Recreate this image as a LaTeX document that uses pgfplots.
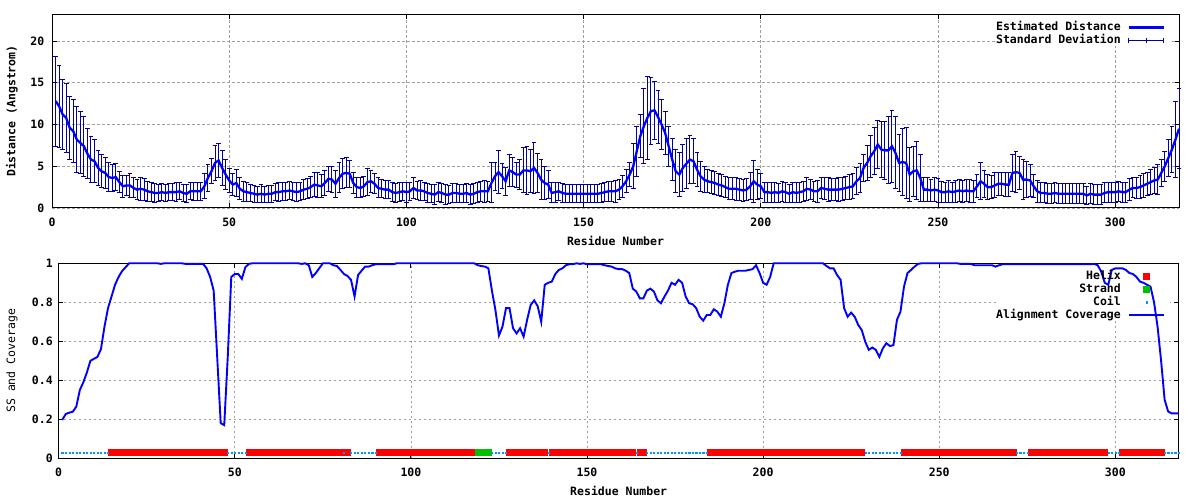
\documentclass[border=0pt]{standalone}
\usepackage{fontspec}
\setmainfont{DejaVu Sans Mono}
\usepackage{pgfplots}
\usepackage{pgfplotstable}
\pgfplotsset{compat=1.18}
\definecolor{linblue}{RGB}{0,0,255}
\definecolor{errblue}{RGB}{0,0,165}
\definecolor{helixred}{RGB}{255,0,0}
\definecolor{strandgreen}{RGB}{0,192,0}
\definecolor{coilblue}{RGB}{0,150,255}
\definecolor{gridgray}{RGB}{160,160,160}
\newcommand{\gfont}{\bfseries\fontsize{11.5}{13}\selectfont}

\pgfplotstableread{
r d s c
1 12.8 5.4 .197
2 12.2 4.9 .227
3 11.2 4.2 .234
4 10.8 4.1 .239
5 9.6 3.8 .265
6 9.2 3.8 .35
7 8.2 3.9 .39
8 7.8 3.7 .44
9 7.4 3.6 .50
10 6.5 3.0 .51
11 5.8 2.8 .52
12 5.6 2.6 .56
13 4.8 2.1 .675
14 4.4 2.0 .77
15 4.2 1.9 .83
16 3.7 1.7 .89
17 3.6 1.6 .93
18 3.7 1.6 .96
19 3.1 1.3 .98
20 2.6 1.3 1
21 2.7 1.2 1
22 2.7 1.4 1
23 2.4 1.2 1
24 2.2 1.2 1
25 2.3 1.4 1
26 2.2 1.3 1
27 2.0 1.2 1
28 1.9 1.1 1
29 1.8 1.1 .997
30 1.8 1.0 1
31 1.9 1.0 1
32 1.8 1.0 1
33 1.9 1.0 1
34 1.9 1.0 1
35 1.9 1.1 1
36 2.0 1.0 .997
37 1.8 1.0 .997
38 1.7 1.1 .997
39 2.0 1.0 .997
40 2.0 1.1 .997
41 2.0 1.1 .997
42 2.0 1.1 .974
43 2.6 1.5 .93
44 3.6 1.6 .86
45 4.4 1.5 .52
46 5.4 2.1 .18
47 5.7 2.0 .17
48 4.8 2.1 .52
49 4.0 1.8 .93
50 3.3 1.4 .945
51 2.8 1.3 .945
52 3.0 1.6 .92
53 2.3 1.3 .98
54 2.0 1.2 .997
55 1.9 1.1 1
56 1.8 1.0 1
57 1.7 1.0 1
58 1.6 1.0 1
59 1.7 1.1 1
60 1.6 1.0 1
61 1.7 1.0 1
62 1.7 1.0 1
63 1.9 1.0 1
64 1.9 1.1 1
65 2.0 1.1 1
66 2.0 1.1 1
67 2.1 1.1 1
68 2.0 1.1 1
69 1.9 1.1 .997
70 2.0 1.1 1
71 2.2 1.2 .99
72 2.3 1.2 .93
73 2.5 1.3 .95
74 2.8 1.4 .975
75 2.7 1.5 1
76 2.6 1.4 1
77 3.0 1.5 1
78 3.5 1.5 .99
79 3.4 1.6 .986
80 2.9 1.6 .966
81 3.6 1.8 .945
82 4.1 1.8 .935
83 4.2 1.8 .915
84 4.1 1.6 .83
85 3.0 1.3 .94
86 2.5 1.2 .962
87 2.4 1.2 .983
88 2.6 1.2 .983
89 3.1 1.6 .99
90 3.2 1.3 .995
91 2.9 1.2 .995
92 2.4 1.2 .995
93 2.3 1.1 .995
94 2.2 1.1 .995
95 2.2 1.1 .995
96 1.9 1.1 1
97 1.8 1.1 1
98 1.9 1.1 1
99 2.0 1.1 1
100 1.9 1.2 1
101 2.0 1.1 1
102 2.4 1.3 1
103 2.1 1.1 1
104 2.1 1.2 1
105 2.0 1.1 1
106 1.8 1.1 1
107 1.7 1.1 1
108 1.6 1.2 1
109 1.9 1.1 1
110 1.8 1.1 1
111 1.6 1.2 1
112 1.6 1.1 1
113 1.8 1.1 1
114 1.8 1.1 1
115 1.7 1.1 1
116 1.7 1.1 1
117 1.8 1.1 1
118 1.6 1.2 1
119 1.7 1.2 .99
120 1.9 1.2 .986
121 2.0 1.2 .983
122 2.0 1.3 .974
123 2.0 1.2 .86
124 3.0 2.4 .76
125 3.8 1.7 .63
126 4.3 2.6 .675
127 3.8 1.5 .77
128 3.2 1.7 .77
129 4.5 1.9 .667
130 4.3 1.7 .64
131 4.0 1.5 .667
132 4.0 1.8 .624
133 4.5 2.7 .71
134 4.5 2.9 .786
135 4.4 2.6 .81
136 4.8 3.1 .78
137 4.2 2.3 .70
138 3.4 2.4 .89
139 3.0 2.0 .90
140 2.8 1.7 .906
141 1.8 1.2 .945
142 1.9 1.2 .966
143 2.0 1.1 .974
144 1.8 1.1 .99
145 1.7 1.1 .995
146 1.7 1.1 .995
147 1.7 1.1 1
148 1.7 1.1 .997
149 1.7 1.1 1
150 1.7 1.1 .995
151 1.7 1.1 .995
152 1.7 1.1 .995
153 1.7 1.1 .995
154 1.7 1.1 .995
155 1.8 1.1 .99
156 1.9 1.1 .986
157 2.0 1.2 .983
158 2.0 1.2 .974
159 2.0 1.3 .97
160 2.2 1.2 .97
161 2.6 1.3 .962
162 3.2 1.4 .95
163 4.0 1.4 .87
164 5.0 2.7 .855
165 6.8 3.0 .82
166 8.6 2.6 .82
167 9.8 4.5 .86
168 10.8 5.0 .87
169 11.6 4.0 .855
170 11.7 3.5 .81
171 10.9 3.2 .795
172 10.0 3.0 .83
173 9.0 2.6 .86
174 7.4 2.4 .90
175 5.8 2.5 .89
176 4.4 2.6 .915
177 4.0 2.6 .90
178 4.8 2.8 .83
179 5.3 3.0 .795
180 5.8 2.9 .79
181 5.6 2.7 .77
182 4.6 2.0 .726
183 3.8 1.8 .706
184 3.4 1.6 .735
185 3.2 1.4 .735
186 3.1 1.4 .764
187 3.0 1.4 .752
188 2.8 1.3 .726
189 2.7 1.3 .795
190 2.5 1.3 .89
191 2.3 1.3 .95
192 2.3 1.3 .957
193 2.3 1.4 .962
194 2.2 1.3 .962
195 2.1 1.3 .962
196 2.2 1.3 .966
197 2.6 1.6 .97
198 3.2 2.5 .99
199 2.8 1.8 .95
200 2.6 1.5 .90
201 1.9 1.2 .89
202 1.9 1.2 .93
203 1.8 1.2 1
204 1.9 1.2 1
205 1.8 1.1 1
206 2.0 1.2 1
207 1.9 1.2 1
208 1.7 1.1 1
209 1.9 1.2 1
210 1.8 1.2 1
211 1.9 1.2 1
212 2.0 1.2 1
213 2.3 1.4 1
214 2.2 1.2 1
215 2.0 1.2 1
216 2.0 1.3 1
217 2.4 1.3 1
218 2.3 1.3 .986
219 2.2 1.4 .974
220 2.2 1.3 .974
221 2.2 1.3 .94
222 2.2 1.4 .915
223 2.3 1.4 .77
224 2.4 1.4 .726
225 2.5 1.5 .747
226 2.6 1.5 .726
227 3.2 1.6 .684
228 3.6 1.7 .658
229 4.8 1.6 .598
230 5.4 2.1 .556
231 6.2 2.5 .568
232 6.8 2.8 .556
233 7.6 2.9 .52
234 7.0 3.4 .564
235 6.9 3.5 .59
236 6.9 4.0 .576
237 7.4 4.3 .58
238 6.6 4.3 .71
239 5.4 3.4 .752
240 5.5 4.0 .88
241 5.4 4.3 .95
242 4.0 3.2 .966
243 4.4 3.0 .983
244 4.5 3.5 .997
245 3.6 2.8 1
246 2.2 1.4 1
247 2.2 1.4 1
248 2.1 1.3 1
249 2.2 1.4 1
250 2.1 1.4 1
251 1.9 1.3 1
252 1.9 1.2 1
253 2.0 1.3 1
254 1.9 1.2 1
255 2.0 1.3 1
256 2.1 1.3 .997
257 2.0 1.3 .997
258 2.1 1.3 .997
259 2.0 1.4 .997
260 2.0 1.3 .99
261 2.6 1.4 .99
262 3.2 2.2 .99
263 2.9 1.6 .99
264 2.5 1.5 .99
265 2.5 1.4 .99
266 2.7 1.5 .983
267 2.9 1.4 .99
268 2.9 1.4 .995
269 2.8 1.4 .995
270 2.8 1.4 .995
271 4.2 2.2 .995
272 4.3 2.5 .995
273 4.2 2.0 .995
274 3.4 2.4 .995
275 3.4 2.2 .995
276 3.3 1.9 .995
277 2.6 1.4 .995
278 2.0 1.3 .995
279 1.8 1.2 .995
280 1.8 1.2 .995
281 1.7 1.2 .995
282 1.7 1.2 .995
283 1.8 1.2 .995
284 1.7 1.2 .995
285 1.7 1.2 .995
286 1.7 1.2 .995
287 1.7 1.2 .995
288 1.7 1.2 .995
289 1.7 1.2 .995
290 1.7 1.2 .995
291 1.7 1.2 .995
292 1.5 1.1 .995
293 1.7 1.2 .995
294 1.6 1.2 .997
295 1.6 1.2 .99
296 1.6 1.2 .957
297 1.8 1.2 .90
298 1.9 1.2 .89
299 1.9 1.2 .966
300 1.9 1.2 .974
301 2.0 1.2 .974
302 1.9 1.2 .974
303 1.9 1.2 .966
304 2.2 1.3 .95
305 2.4 1.2 .945
306 2.4 1.3 .93
307 2.5 1.4 .906
308 2.7 1.4 .90
309 2.9 1.4 .89
310 3.1 1.5 .88
311 3.3 1.6 .80
312 3.4 1.8 .675
313 4.2 1.6 .50
314 5.0 1.8 .30
315 6.0 2.2 .24
316 7.0 2.8 .23
317 8.2 4.6 .23
318 9.5 4.8 .23
}\datatable

\pgfplotsset{
  gstyle/.style={
    scale only axis,
    set layers=standard,
    clip=false,
    xmin=0, xmax=318,
    xtick={0,50,100,150,200,250,300},
    xtick pos=both, ytick pos=both,
    grid=major,
    major grid style={gridgray, line width=0.8pt, dash pattern=on 2.5pt off 2.5pt},
    axis line style={black, line width=1pt},
    every tick/.style={black, line width=1pt},
    major tick length=4.5pt,
    tick align=inside,
    /pgf/number format/assume math mode=true,
    tick label style={font=\gfont},
    label style={font=\gfont},
    xticklabel style={yshift=-6.3pt},
    legend cell align=right,
    legend plot pos=right,
    legend image code/.code={\draw[mark repeat=2,mark phase=2,##1] plot coordinates {(0pt,0pt) (17.5pt,0pt) (35pt,0pt)};},
    legend style={draw=none, fill=none, font=\gfont, inner sep=0pt, outer sep=0pt,
      column sep=7pt, row sep=1.5pt,
      nodes={inner sep=0pt, text height=8.8pt, text depth=2.7pt}},
  }
}

\begin{document}
\begin{tikzpicture}
\path (0pt,0pt) rectangle (1200pt,500pt);

% ---------- top panel ----------
\begin{axis}[gstyle,
  at={(52pt,292pt)}, anchor=south west,
  width=1127pt, height=193.7pt,
  ymin=0, ymax=23.2, ytick={0,5,10,15,20},
  yticklabel style={xshift=-4.2pt},
  xlabel={Residue Number},
  ylabel={Distance (Angstrom)},
  xlabel style={at={(axis description cs:0.5,-0.168)}, anchor=center},
  ylabel style={at={(axis description cs:-0.0355,0.5)}, anchor=center},
  legend style={at={(axis description cs:1,1)}, anchor=north east, xshift=-14pt, yshift=-7.6pt},
]
\begin{pgfonlayer}{axis ticks}
\fill[white] (rel axis cs:0.8367,0.836) rectangle (rel axis cs:0.992,0.997);
\end{pgfonlayer}
\addplot[draw=none, mark=none, forget plot,
  error bars/.cd, y dir=both, y explicit,
  error bar style={draw=errblue, line width=1pt},
  error mark options={draw=errblue, mark size=2.4pt, line width=1pt, rotate=90}]
  table[x=r, y=d, y error=s] {\datatable};
\addplot[linblue, line width=2.3pt, mark=none] table[x=r, y=d] {\datatable};
\addlegendentry{Estimated Distance}
\addlegendimage{legend image code/.code={
  \draw[errblue, line width=1pt] (0pt,0pt) -- (35pt,0pt);
  \draw[errblue, line width=1pt] (0pt,-2.2pt) -- (0pt,2.2pt) (17.5pt,-2.6pt) -- (17.5pt,2.6pt) (35pt,-2.2pt) -- (35pt,2.2pt);}}
\addlegendentry{Standard Deviation}
\end{axis}

% ---------- bottom panel ----------
\begin{axis}[gstyle,
  at={(58.7pt,41.7pt)}, anchor=south west,
  width=1120pt, height=195pt,
  ymin=0, ymax=1, ytick={0,0.2,0.4,0.6,0.8,1},
  yticklabel style={xshift=-2.4pt},
  xlabel={Residue Number},
  ylabel={SS and Coverage},
  xlabel style={at={(axis description cs:0.5,-0.169)}, anchor=center},
  ylabel style={at={(axis description cs:-0.0417,0.5)}, anchor=center, font=\fontsize{11.5}{13}\selectfont},
  legend style={at={(axis description cs:1,1)}, anchor=north east, xshift=-14pt, yshift=-7.2pt},
]
\begin{pgfonlayer}{axis ticks}
\fill[white] (rel axis cs:0.8396,0.704) rectangle (rel axis cs:0.992,0.997);
\end{pgfonlayer}
% Helix
\addplot[only marks, mark=square*, mark size=2.85pt, helixred, mark options={draw=helixred, fill=helixred}] coordinates {
(15,.03)(16,.03)(17,.03)(18,.03)(19,.03)(20,.03)(21,.03)(22,.03)(23,.03)(24,.03)(25,.03)(26,.03)(27,.03)(28,.03)(29,.03)(30,.03)(31,.03)(32,.03)(33,.03)(34,.03)(35,.03)(36,.03)(37,.03)(38,.03)(39,.03)(40,.03)(41,.03)(42,.03)(43,.03)(44,.03)(45,.03)(46,.03)(47,.03)
(54,.03)(55,.03)(56,.03)(57,.03)(58,.03)(59,.03)(60,.03)(61,.03)(62,.03)(63,.03)(64,.03)(65,.03)(66,.03)(67,.03)(68,.03)(69,.03)(70,.03)(71,.03)(72,.03)(73,.03)(74,.03)(75,.03)(76,.03)(77,.03)(78,.03)(79,.03)(80,.03)
(82,.03)
(91,.03)(92,.03)(93,.03)(94,.03)(95,.03)(96,.03)(97,.03)(98,.03)(99,.03)(100,.03)(101,.03)(102,.03)(103,.03)(104,.03)(105,.03)(106,.03)(107,.03)(108,.03)(109,.03)(110,.03)(111,.03)(112,.03)(113,.03)(114,.03)(115,.03)(116,.03)(117,.03)(118,.03)
(128,.03)(129,.03)(130,.03)(131,.03)(132,.03)(133,.03)(134,.03)(135,.03)(136,.03)(137,.03)(138,.03)
(140,.03)(141,.03)(142,.03)(143,.03)(144,.03)(145,.03)(146,.03)(147,.03)(148,.03)(149,.03)(150,.03)(151,.03)(152,.03)(153,.03)(154,.03)(155,.03)(156,.03)(157,.03)(158,.03)(159,.03)(160,.03)(161,.03)(162,.03)(163,.03)
(165,.03)(166,.03)
(185,.03)(186,.03)(187,.03)(188,.03)(189,.03)(190,.03)(191,.03)(192,.03)(193,.03)(194,.03)(195,.03)(196,.03)(197,.03)(198,.03)(199,.03)(200,.03)(201,.03)(202,.03)(203,.03)(204,.03)(205,.03)(206,.03)(207,.03)(208,.03)(209,.03)(210,.03)(211,.03)(212,.03)(213,.03)(214,.03)(215,.03)(216,.03)(217,.03)(218,.03)(219,.03)(220,.03)(221,.03)(222,.03)(223,.03)(224,.03)(225,.03)(226,.03)(227,.03)(228,.03)
(240,.03)(241,.03)(242,.03)(243,.03)(244,.03)(245,.03)(246,.03)(247,.03)(248,.03)(249,.03)(250,.03)(251,.03)(252,.03)(253,.03)(254,.03)(255,.03)(256,.03)(257,.03)(258,.03)(259,.03)(260,.03)(261,.03)(262,.03)(263,.03)(264,.03)(265,.03)(266,.03)(267,.03)(268,.03)(269,.03)(270,.03)(271,.03)
(276,.03)(277,.03)(278,.03)(279,.03)(280,.03)(281,.03)(282,.03)(283,.03)(284,.03)(285,.03)(286,.03)(287,.03)(288,.03)(289,.03)(290,.03)(291,.03)(292,.03)(293,.03)(294,.03)(295,.03)(296,.03)(297,.03)
(302,.03)(303,.03)(304,.03)(305,.03)(306,.03)(307,.03)(308,.03)(309,.03)(310,.03)(311,.03)(312,.03)(313,.03)
};
\addlegendentry{Helix}
% Strand
\addplot[only marks, mark=square*, mark size=2.85pt, strandgreen, mark options={draw=strandgreen, fill=strandgreen}] coordinates {
(119,.03)(120,.03)(121,.03)(122,.03)
};
\addlegendentry{Strand}
% Coil
\addplot[only marks, mark=square*, mark size=0.55pt, coilblue, mark options={draw=none, fill=coilblue}] coordinates {
(1,.03)(2,.03)(3,.03)(4,.03)(5,.03)(6,.03)(7,.03)(8,.03)(9,.03)(10,.03)(11,.03)(12,.03)(13,.03)(14,.03)
(48,.03)(49,.03)(50,.03)(51,.03)(52,.03)(53,.03)
(81,.03)
(83,.03)(84,.03)(85,.03)(86,.03)(87,.03)(88,.03)(89,.03)(90,.03)
(123,.03)(124,.03)(125,.03)(126,.03)(127,.03)
(139,.03)
(164,.03)
(167,.03)(168,.03)(169,.03)(170,.03)(171,.03)(172,.03)(173,.03)(174,.03)(175,.03)(176,.03)(177,.03)(178,.03)(179,.03)(180,.03)(181,.03)(182,.03)(183,.03)(184,.03)
(229,.03)(230,.03)(231,.03)(232,.03)(233,.03)(234,.03)(235,.03)(236,.03)(237,.03)(238,.03)(239,.03)
(272,.03)(273,.03)(274,.03)(275,.03)
(298,.03)(299,.03)(300,.03)(301,.03)
(314,.03)(315,.03)(316,.03)(317,.03)(318,.03)
};
\addlegendentry{Coil}
\addplot[linblue, line width=1.9pt, mark=none] table[x=r, y=c] {\datatable};
\addlegendentry{Alignment Coverage}
\end{axis}
\end{tikzpicture}
\end{document}
